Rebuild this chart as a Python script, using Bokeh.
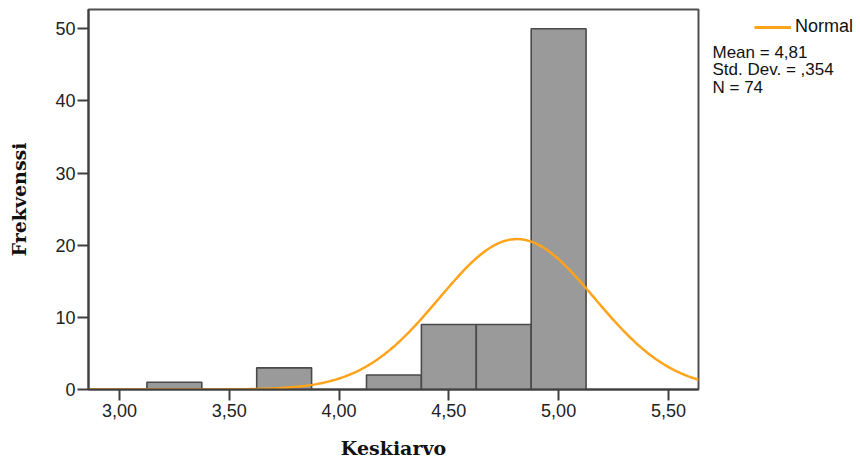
import numpy as np
from bokeh.plotting import figure
from bokeh.layouts import row, column
from bokeh.models import FixedTicker, Legend, LegendItem, Range1d
from bokeh.core.properties import value
from bokeh.embed import file_html
from bokeh.resources import INLINE

# ---- data ----
bin_centers = [3.25, 3.75, 4.25, 4.50, 4.75, 5.00]
bin_counts = [1, 3, 2, 9, 9, 50]
bin_width = 0.25
stat_mean = 4.81
stat_sd = 0.354
stat_n = 74
x_ticks = [3.0, 3.5, 4.0, 4.5, 5.0, 5.5]
x_tick_labels = ["3,00", "3,50", "4,00", "4,50", "5,00", "5,50"]
y_ticks = [0, 10, 20, 30, 40, 50]
stats_lines = ["Mean = 4,81", "Std. Dev. = ,354", "N = 74"]
legend_label = "Normal"
x_title = "Keskiarvo"
y_title = "Frekvenssi"

XMIN, XMAX = 2.859, 5.637
YMIN, YMAX = 0, 52.67
CURVE_COLOR = "#ffa31a"
H = 461

p = figure(width=700, height=H, output_backend="svg", toolbar_location=None,
           x_range=Range1d(XMIN, XMAX), y_range=Range1d(YMIN, YMAX),
           min_border_left=88, min_border_right=2, min_border_top=9,
           min_border_bottom=71)
p.background_fill_color = "white"
p.border_fill_color = "white"
p.outline_line_color = "#505050"
p.outline_line_width = 2
p.xgrid.visible = False
p.ygrid.visible = False

# bars
p.vbar(x=bin_centers, top=bin_counts, width=bin_width, bottom=0,
       fill_color="#9a9a9a", line_color="#4a4a4a", line_width=1.6)

# normal curve from the displayed statistics
xs = np.linspace(XMIN, XMAX, 400)
ys = stat_n * bin_width / (stat_sd * np.sqrt(2 * np.pi)) * np.exp(-0.5 * ((xs - stat_mean) / stat_sd) ** 2)
p.line(xs, ys, line_color=CURVE_COLOR, line_width=2.5)

# axes
for ax in (p.xaxis[0], p.yaxis[0]):
    ax.axis_line_color = "#404040"
    ax.axis_line_width = 2
    ax.major_tick_line_color = "#404040"
    ax.major_tick_line_width = 2
    ax.major_tick_out = 11
    ax.major_tick_in = 0
    ax.minor_tick_line_color = None
    ax.major_label_text_font = "Liberation Sans"
    ax.major_label_text_font_size = "18px"
    ax.major_label_text_color = "#222222"
    ax.axis_label_text_font = "DejaVu Serif"
    ax.axis_label_text_font_style = "bold"
    ax.axis_label_text_font_size = "19px"
    ax.axis_label_text_color = "#111111"

p.xaxis.ticker = FixedTicker(ticks=x_ticks)
p.xaxis.major_label_overrides = {t: s for t, s in zip(x_ticks, x_tick_labels)}
p.xaxis.major_label_standoff = 3
p.xaxis.axis_label = x_title
p.xaxis.axis_label_standoff = 17

p.yaxis.ticker = FixedTicker(ticks=y_ticks)
p.yaxis.major_label_standoff = 2
p.yaxis.axis_label = y_title
p.yaxis.axis_label_standoff = 22

# side panel: legend on top, statistics below
side_w = 160
leg_h = 44
stat_h = H - leg_h


def blank(height):
    f = figure(width=side_w, height=height, output_backend="svg", toolbar_location=None,
               x_range=Range1d(0, side_w), y_range=Range1d(0, height),
               min_border=0, min_border_left=0, min_border_right=0,
               min_border_top=0, min_border_bottom=0)
    f.axis.visible = False
    f.grid.visible = False
    f.outline_line_color = None
    f.background_fill_color = "white"
    f.border_fill_color = "white"
    return f


p_leg = blank(leg_h)
# legend key stub (lies outside the visible range; only its style is shown in the legend)
key = p_leg.line(x=[-20, -10], y=[-20, -20], line_color=CURVE_COLOR, line_width=3)
legend = Legend(items=[LegendItem(label=legend_label, renderers=[key])],
                location="bottom_right", padding=0, margin=7, spacing=0,
                glyph_width=37, glyph_height=20, label_standoff=4,
                label_height=20,
                label_text_font="Liberation Sans", label_text_font_size="18px",
                label_text_color="#111111",
                border_line_color=None, background_fill_alpha=0)
p_leg.add_layout(legend, "center")

p_stat = blank(stat_h)
stat_y = [stat_h - 7.7, stat_h - 25.3, stat_h - 43.3]
p_stat.text(x=[12] * len(stats_lines), y=stat_y, text=stats_lines,
            text_font=value("Liberation Sans"), text_font_size="17px",
            text_color="#111111", text_baseline="middle", text_align="left")

layout = row(p, column(p_leg, p_stat, spacing=0), spacing=0)
open("out.html", "w").write(file_html(layout, INLINE))
